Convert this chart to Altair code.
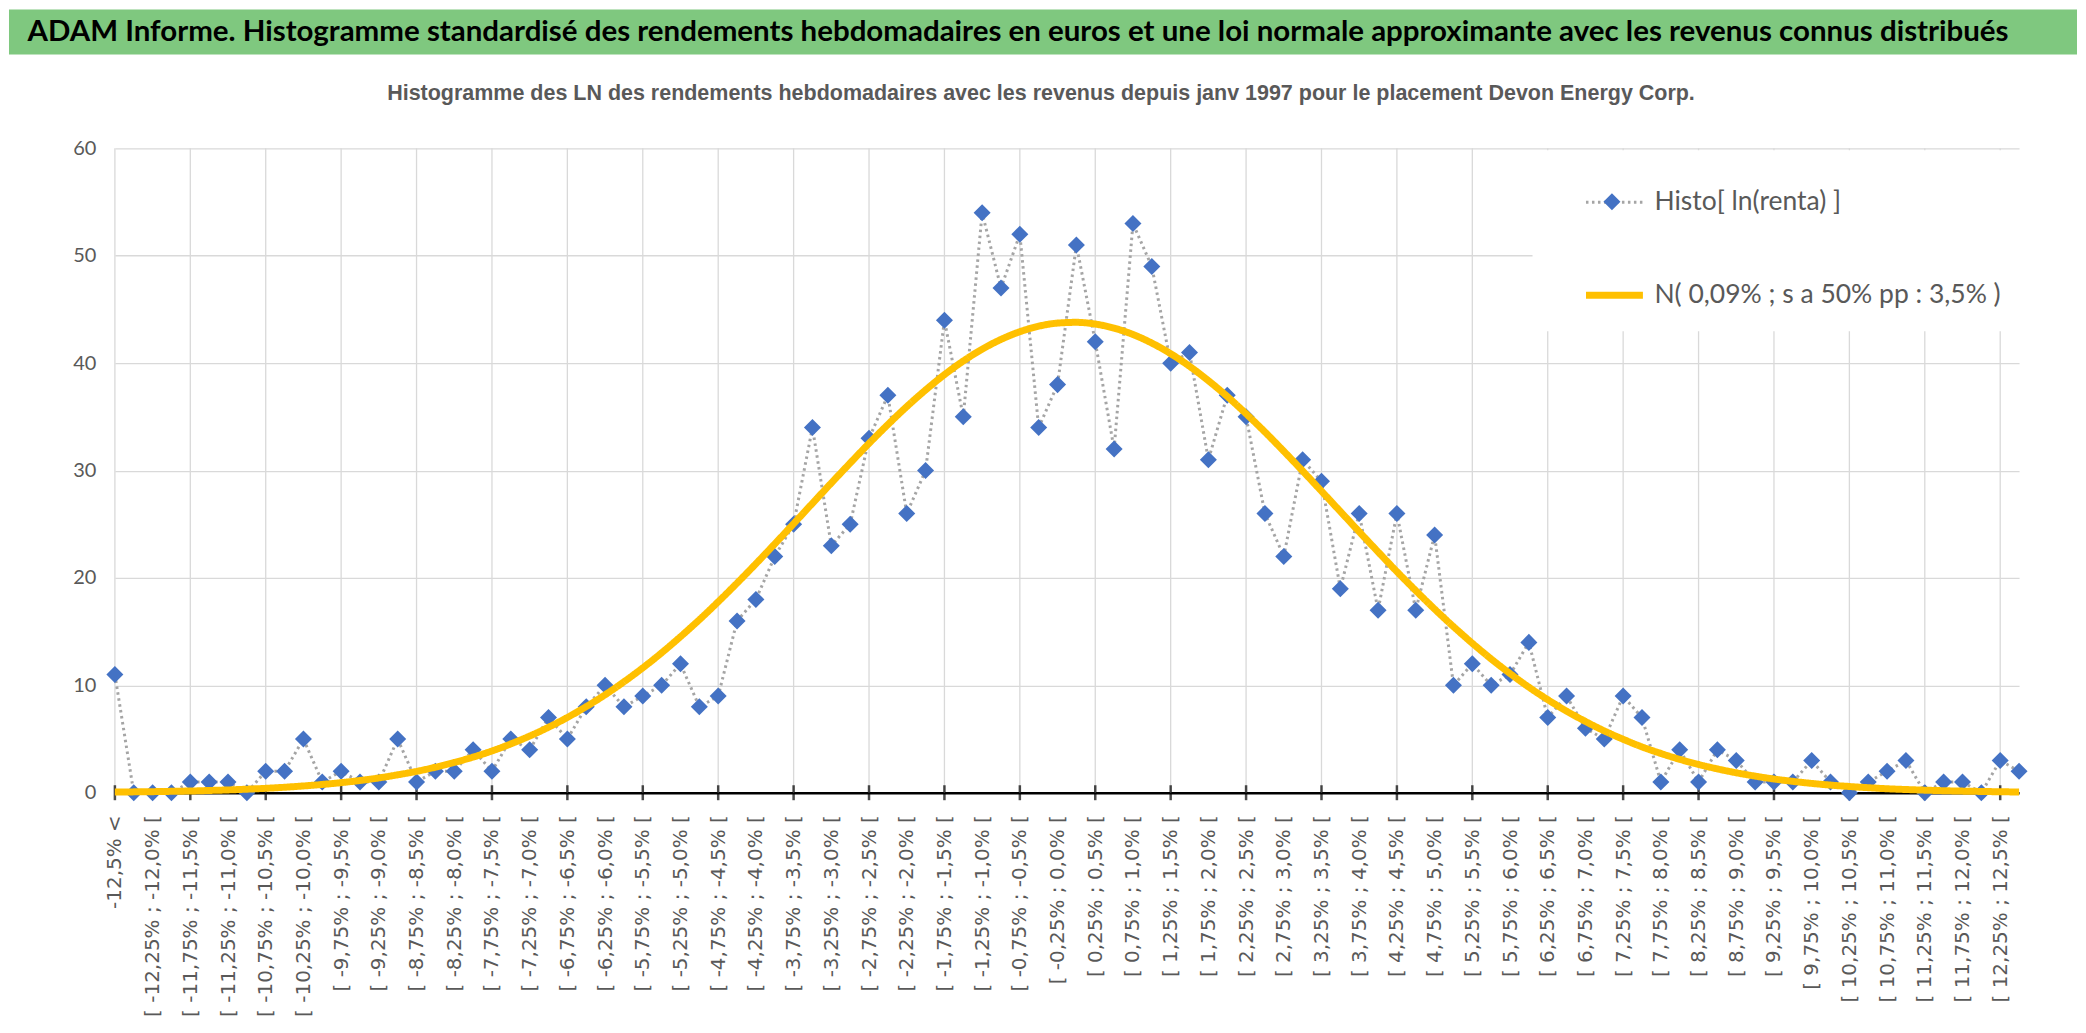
import altair as alt
import pandas as pd

MAIN_TITLE = "ADAM Informe. Histogramme standardisé des rendements hebdomadaires en euros et une loi normale approximante avec les revenus connus distribués"
CHART_TITLE = "Histogramme des LN des rendements hebdomadaires avec les revenus depuis janv 1997 pour le placement Devon Energy Corp."
SERIES_HISTO = "Histo[ ln(renta) ]"
SERIES_NORMAL = "N( 0,09% ; s a 50% pp : 3,5% )"

categories = [
    "-12,5% <",
    "[ -12,5% ; -12,25% [", "[ -12,25% ; -12,0% [", "[ -12,0% ; -11,75% [", "[ -11,75% ; -11,5% [",
    "[ -11,5% ; -11,25% [", "[ -11,25% ; -11,0% [", "[ -11,0% ; -10,75% [", "[ -10,75% ; -10,5% [",
    "[ -10,5% ; -10,25% [", "[ -10,25% ; -10,0% [", "[ -10,0% ; -9,75% [", "[ -9,75% ; -9,5% [",
    "[ -9,5% ; -9,25% [", "[ -9,25% ; -9,0% [", "[ -9,0% ; -8,75% [", "[ -8,75% ; -8,5% [",
    "[ -8,5% ; -8,25% [", "[ -8,25% ; -8,0% [", "[ -8,0% ; -7,75% [", "[ -7,75% ; -7,5% [",
    "[ -7,5% ; -7,25% [", "[ -7,25% ; -7,0% [", "[ -7,0% ; -6,75% [", "[ -6,75% ; -6,5% [",
    "[ -6,5% ; -6,25% [", "[ -6,25% ; -6,0% [", "[ -6,0% ; -5,75% [", "[ -5,75% ; -5,5% [",
    "[ -5,5% ; -5,25% [", "[ -5,25% ; -5,0% [", "[ -5,0% ; -4,75% [", "[ -4,75% ; -4,5% [",
    "[ -4,5% ; -4,25% [", "[ -4,25% ; -4,0% [", "[ -4,0% ; -3,75% [", "[ -3,75% ; -3,5% [",
    "[ -3,5% ; -3,25% [", "[ -3,25% ; -3,0% [", "[ -3,0% ; -2,75% [", "[ -2,75% ; -2,5% [",
    "[ -2,5% ; -2,25% [", "[ -2,25% ; -2,0% [", "[ -2,0% ; -1,75% [", "[ -1,75% ; -1,5% [",
    "[ -1,5% ; -1,25% [", "[ -1,25% ; -1,0% [", "[ -1,0% ; -0,75% [", "[ -0,75% ; -0,5% [",
    "[ -0,5% ; -0,25% [", "[ -0,25% ; 0,0% [",
    "[ 0,0% ; 0,25% [", "[ 0,25% ; 0,5% [", "[ 0,5% ; 0,75% [", "[ 0,75% ; 1,0% [",
    "[ 1,0% ; 1,25% [", "[ 1,25% ; 1,5% [", "[ 1,5% ; 1,75% [", "[ 1,75% ; 2,0% [",
    "[ 2,0% ; 2,25% [", "[ 2,25% ; 2,5% [", "[ 2,5% ; 2,75% [", "[ 2,75% ; 3,0% [",
    "[ 3,0% ; 3,25% [", "[ 3,25% ; 3,5% [", "[ 3,5% ; 3,75% [", "[ 3,75% ; 4,0% [",
    "[ 4,0% ; 4,25% [", "[ 4,25% ; 4,5% [", "[ 4,5% ; 4,75% [", "[ 4,75% ; 5,0% [",
    "[ 5,0% ; 5,25% [", "[ 5,25% ; 5,5% [", "[ 5,5% ; 5,75% [", "[ 5,75% ; 6,0% [",
    "[ 6,0% ; 6,25% [", "[ 6,25% ; 6,5% [", "[ 6,5% ; 6,75% [", "[ 6,75% ; 7,0% [",
    "[ 7,0% ; 7,25% [", "[ 7,25% ; 7,5% [", "[ 7,5% ; 7,75% [", "[ 7,75% ; 8,0% [",
    "[ 8,0% ; 8,25% [", "[ 8,25% ; 8,5% [", "[ 8,5% ; 8,75% [", "[ 8,75% ; 9,0% [",
    "[ 9,0% ; 9,25% [", "[ 9,25% ; 9,5% [", "[ 9,5% ; 9,75% [", "[ 9,75% ; 10,0% [",
    "[ 10,0% ; 10,25% [", "[ 10,25% ; 10,5% [", "[ 10,5% ; 10,75% [", "[ 10,75% ; 11,0% [",
    "[ 11,0% ; 11,25% [", "[ 11,25% ; 11,5% [", "[ 11,5% ; 11,75% [", "[ 11,75% ; 12,0% [",
    "[ 12,0% ; 12,25% [", "[ 12,25% ; 12,5% [",
    "12,5% <=",
]

hist_counts = [
    11, 0, 0, 0, 1, 1, 1, 0, 2, 2,
    5, 1, 2, 1, 1, 5, 1, 2, 2, 4,
    2, 5, 4, 7, 5, 8, 10, 8, 9, 10,
    12, 8, 9, 16, 18, 22, 25, 34, 23, 25,
    33, 37, 26, 30, 44, 35, 54, 47, 52, 34,
    38, 51, 42, 32, 53, 49, 40, 41, 31, 37,
    35, 26, 22, 31, 29, 19, 26, 17, 26, 17,
    24, 10, 12, 10, 11, 14, 7, 9, 6, 5,
    9, 7, 1, 4, 1, 4, 3, 1, 1, 1,
    3, 1, 0, 1, 2, 3, 0, 1, 1, 0,
    3, 2,
]

normal_fit = [
    0.06, 0.08, 0.10, 0.13, 0.16, 0.21, 0.26, 0.33, 0.41, 0.51,
    0.63, 0.77, 0.94, 1.14, 1.38, 1.67, 1.99, 2.38, 2.82, 3.32,
    3.89, 4.55, 5.28, 6.10, 7.01, 8.02, 9.12, 10.33, 11.63, 13.03,
    14.53, 16.11, 17.78, 19.52, 21.32, 23.17, 25.05, 26.95, 28.84, 30.70,
    32.53, 34.28, 35.95, 37.50, 38.93, 40.20, 41.30, 42.21, 42.93, 43.44,
    43.73, 43.80, 43.64, 43.26, 42.67, 41.87, 40.88, 39.71, 38.37, 36.90,
    35.29, 33.59, 31.80, 29.96, 28.08, 26.19, 24.30, 22.43, 20.59, 18.82,
    17.10, 15.47, 13.92, 12.46, 11.10, 9.83, 8.67, 7.60, 6.64, 5.76,
    4.98, 4.27, 3.66, 3.11, 2.63, 2.22, 1.86, 1.55, 1.28, 1.06,
    0.87, 0.71, 0.58, 0.47, 0.37, 0.30, 0.24, 0.19, 0.15, 0.12,
    0.09, 0.07,
]

y_ticks = [0, 10, 20, 30, 40, 50, 60]

assert len(categories) == len(hist_counts) == len(normal_fit) == 102

label_cats = categories[::2]
grid_cats = categories[::4]

HUMAN = "Lato, Open Sans, sans-serif"
SANS = "Liberation Sans, Arial, sans-serif"
GREY_TXT = "#595959"
GRID = "#d9d9d9"

Y_AXIS_EXTENT = 106
PLOT_W = 1906
PLOT_H = 645
BANNER_W = 1964
BANNER_H = 45

histo_df = pd.DataFrame({
    "cat": categories, "value": hist_counts, "series": SERIES_HISTO,
    "pt": SERIES_HISTO, "order": list(range(len(categories))),
})
normal_df = pd.DataFrame({
    "cat": categories, "value": normal_fit, "series": SERIES_NORMAL,
    "order": list(range(len(categories))),
})
grid_df = pd.DataFrame({"cat": grid_cats, "value": [0] * len(grid_cats)})

xscale = alt.Scale(type="point", domain=categories, padding=0)
yscale = alt.Scale(domain=[0, 60], nice=False, zero=True)

x_axis = alt.Axis(
    values=label_cats, labelAngle=-90, labelFont="DejaVu Sans", labelFontSize=20,
    labelColor=GREY_TXT, labelPadding=22, ticks=False, domainColor="black",
    domainWidth=2.5, grid=False, title=None, labelOverlap=False, labelFlush=False,
    labelLimit=320,
)
y_axis = alt.Axis(
    values=y_ticks, grid=True, gridColor=GRID, gridWidth=1.3, domain=False,
    ticks=False, labelFont=HUMAN, labelFontSize=20, labelColor=GREY_TXT,
    labelPadding=19, title=None, minExtent=Y_AXIS_EXTENT,
)

X = alt.X("cat:O", scale=xscale, axis=x_axis)
Y = alt.Y("value:Q", scale=yscale, axis=y_axis)

line_legend = alt.Legend(
    title=" ", titleOrient="left", titleFontSize=1, titlePadding=28,
    orient="none", legendX=1419, legendY=2, direction="vertical",
    fillColor="white", padding=22, rowPadding=47, symbolType="stroke",
    symbolSize=3249, labelFont=HUMAN, labelFontSize=26.5, labelColor=GREY_TXT,
    labelOffset=8, labelLimit=600,
)
diamond_legend = alt.Legend(
    title=None, orient="none", legendX=1489, legendY=44, padding=0,
    symbolType="diamond", symbolSize=290, labelExpr="''", labelFontSize=10,
    zindex=1,
)

series_dom = [SERIES_HISTO, SERIES_NORMAL]

grid_rules = alt.Chart(grid_df).mark_rule(color=GRID, strokeWidth=1.3).encode(x=X)

axis_ticks = alt.Chart(grid_df).mark_tick(
    orient="vertical", size=15, thickness=2.5, color="black"
).encode(x=X, y=Y)


def line_enc():
    return dict(
        x=X, y=Y,
        order=alt.Order("order:Q"),
        stroke=alt.Stroke("series:N", scale=alt.Scale(domain=series_dom, range=["#a5a5a5", "#ffc000"]), legend=line_legend),
        strokeDash=alt.StrokeDash("series:N", scale=alt.Scale(domain=series_dom, range=[[2.5, 3.5], [1, 0]]), legend=line_legend),
        strokeWidth=alt.StrokeWidth("series:N", scale=alt.Scale(domain=series_dom, range=[3, 7]), legend=line_legend),
    )


histo_line = alt.Chart(histo_df).mark_line().encode(**line_enc())

histo_points = alt.Chart(histo_df).mark_point(
    shape="diamond", filled=True, size=290, opacity=1
).encode(
    x=X, y=Y,
    color=alt.Color("pt:N", scale=alt.Scale(domain=[SERIES_HISTO], range=["#4472c4"]), legend=diamond_legend),
)

normal_line = alt.Chart(normal_df).mark_line(interpolate="monotone").encode(**line_enc())

main = alt.layer(grid_rules, axis_ticks, histo_line, histo_points, normal_line).properties(
    width=PLOT_W, height=PLOT_H,
    title=alt.TitleParams(
        text=CHART_TITLE, font=SANS, fontSize=21.5, fontWeight="bold", color=GREY_TXT,
        anchor="middle", frame="group", dx=-26, offset=34,
    ),
)

# Banner: a full-width green band (spanning the y-axis gutter too) with the main title.
banner_df = pd.DataFrame({"x0": [0.0], "x1": [1.0], "mid": [0.5], "t": [MAIN_TITLE]})
banner_x = alt.Scale(domain=[0, 1], range=[-Y_AXIS_EXTENT, BANNER_W])
banner_band = alt.Chart(banner_df).mark_rect(color="#7fc87f").encode(
    x=alt.X("x0:Q", scale=banner_x, axis=None), x2="x1:Q",
)
banner_text = alt.Chart(banner_df).mark_text(
    font=HUMAN, fontSize=29.5, fontWeight="bold", color="black", dx=-25
).encode(x=alt.X("mid:Q", scale=banner_x, axis=None), text="t:N")
banner = alt.layer(banner_band, banner_text).properties(width=BANNER_W, height=BANNER_H)

chart = alt.vconcat(banner, main, spacing=27).resolve_legend(
    stroke="independent", strokeDash="independent", strokeWidth="independent", color="independent"
).properties(padding=0).configure_view(stroke="transparent")

chart.save("out.html", embed_options={"renderer": "svg", "actions": False})
